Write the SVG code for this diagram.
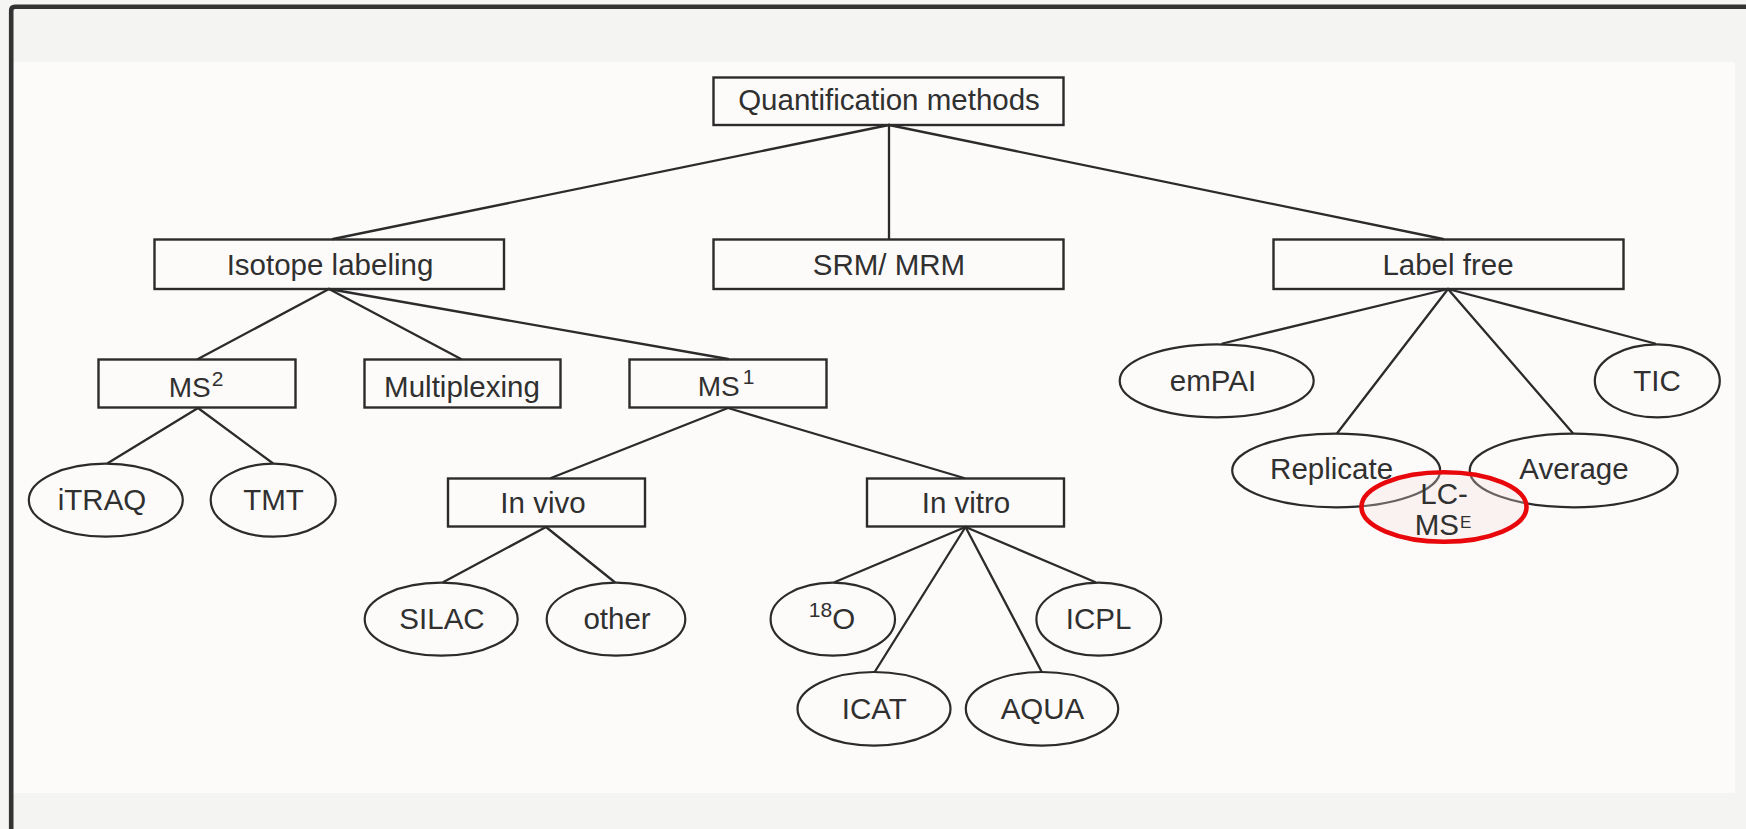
<svg xmlns="http://www.w3.org/2000/svg" width="1746" height="829" viewBox="0 0 1746 829">
  <style>
    .box { fill: none; stroke: #2b2b2b; stroke-width: 2.4; }
    .oval { fill: none; stroke: #2b2b2b; stroke-width: 2.2; }
    .lbl { font-family: "Liberation Sans", Arial, Helvetica, sans-serif; font-size: 29.5px; fill: #303030; text-anchor: middle; }
    .sup { font-size: 21px; }
    .edges line { stroke: #2b2b2b; stroke-width: 2.3; stroke-linecap: round; }
  </style>

  <!-- page and frame -->
  <rect x="0" y="0" width="1746" height="829" fill="#f5f5f4"/>
  <rect x="13" y="9" width="1733" height="820" fill="#f4f4f2"/>
  <rect x="13" y="62" width="1722" height="731" fill="#fdfbfa"/>
  <path d="M11.2,829 V10.5 Q11.2,6.7 15,6.7 H1746" fill="none" stroke="#333333" stroke-width="4.6"/>

  <!-- connectors -->
  <g id="connectors" class="edges">
    <line x1="889" y1="125" x2="333" y2="239"/>
    <line x1="889" y1="125" x2="889" y2="239"/>
    <line x1="889" y1="125" x2="1443" y2="239"/>

    <line x1="329" y1="289" x2="198" y2="359"/>
    <line x1="329" y1="289" x2="461" y2="359"/>
    <line x1="329" y1="289" x2="728" y2="359"/>

    <line x1="198" y1="408" x2="108" y2="463"/>
    <line x1="198" y1="408" x2="272.5" y2="463"/>

    <line x1="728" y1="408" x2="551" y2="478"/>
    <line x1="728" y1="408" x2="964" y2="478"/>

    <line x1="546" y1="527" x2="443.5" y2="582"/>
    <line x1="546" y1="527" x2="614.5" y2="582"/>

    <line x1="965.5" y1="527" x2="835" y2="582"/>
    <line x1="965.5" y1="527" x2="875" y2="671.5"/>
    <line x1="965.5" y1="527" x2="1041.5" y2="671.5"/>
    <line x1="965.5" y1="527" x2="1095" y2="582"/>

    <line x1="1448" y1="289" x2="1222.5" y2="343.5"/>
    <line x1="1448" y1="289" x2="1337.3" y2="433"/>
    <line x1="1448" y1="289" x2="1572.7" y2="433"/>
    <line x1="1448" y1="289" x2="1655" y2="343.5"/>
  </g>

  <!-- level 0 -->
  <g id="quantification-methods">
    <rect class="box" x="713.5" y="77.5" width="350" height="47.5"/>
    <text class="lbl" x="889" y="110">Quantification methods</text>
  </g>

  <!-- level 1 -->
  <g id="isotope-labeling">
    <rect class="box" x="154.5" y="239.5" width="349.5" height="49.5"/>
    <text class="lbl" x="330" y="275">Isotope labeling</text>
  </g>
  <g id="srm-mrm">
    <rect class="box" x="713.5" y="239.5" width="350" height="49.5"/>
    <text class="lbl" x="889" y="275">SRM/ MRM</text>
  </g>
  <g id="label-free">
    <rect class="box" x="1273.5" y="239.5" width="350" height="49.5"/>
    <text class="lbl" x="1448" y="275">Label free</text>
  </g>

  <!-- isotope labeling branch -->
  <g id="ms2">
    <rect class="box" x="98.5" y="359.5" width="197" height="48"/>
    <text class="lbl" x="196" y="396.5"><tspan font-size="28">MS</tspan><tspan class="sup" dx="1" dy="-11">2</tspan></text>
  </g>
  <g id="multiplexing">
    <rect class="box" x="364.5" y="359.5" width="196" height="48"/>
    <text class="lbl" x="462" y="396.5">Multiplexing</text>
  </g>
  <g id="ms1">
    <rect class="box" x="629.5" y="359.5" width="197" height="48"/>
    <text class="lbl" x="726" y="396"><tspan font-size="28">MS</tspan><tspan class="sup" dx="3" dy="-12">1</tspan></text>
  </g>

  <g id="itraq">
    <ellipse class="oval" cx="105.8" cy="500.2" rx="77" ry="36.5"/>
    <text class="lbl" x="102" y="509.5">iTRAQ</text>
  </g>
  <g id="tmt">
    <ellipse class="oval" cx="273.2" cy="500.2" rx="62.5" ry="36.5"/>
    <text class="lbl" x="273.6" y="509.5">TMT</text>
  </g>

  <g id="in-vivo">
    <rect class="box" x="448" y="478.5" width="197" height="48"/>
    <text class="lbl" x="543" y="512.5">In vivo</text>
  </g>
  <g id="in-vitro">
    <rect class="box" x="867" y="478.5" width="197" height="48"/>
    <text class="lbl" x="966" y="512.5">In vitro</text>
  </g>

  <g id="silac">
    <ellipse class="oval" cx="441.2" cy="619.2" rx="76.5" ry="36.5"/>
    <text class="lbl" x="442" y="628.5">SILAC</text>
  </g>
  <g id="other">
    <ellipse class="oval" cx="616" cy="619.2" rx="69.3" ry="36.5"/>
    <text class="lbl" x="617" y="628.5">other</text>
  </g>

  <g id="o18">
    <ellipse class="oval" cx="832.8" cy="619.2" rx="62.2" ry="36.5"/>
    <text class="lbl" x="832" y="628.5"><tspan class="sup" dy="-11.5">18</tspan><tspan dy="11.5">O</tspan></text>
  </g>
  <g id="icpl">
    <ellipse class="oval" cx="1098.8" cy="619.2" rx="62.4" ry="36.5"/>
    <text class="lbl" x="1098.5" y="628.5">ICPL</text>
  </g>
  <g id="icat">
    <ellipse class="oval" cx="874" cy="708.8" rx="76.5" ry="36.8"/>
    <text class="lbl" x="874.3" y="718.5">ICAT</text>
  </g>
  <g id="aqua">
    <ellipse class="oval" cx="1042" cy="708.8" rx="76.2" ry="36.8"/>
    <text class="lbl" x="1042.5" y="718.5">AQUA</text>
  </g>

  <!-- label free branch -->
  <g id="empai">
    <ellipse class="oval" cx="1216.7" cy="380.8" rx="97" ry="36.5"/>
    <text class="lbl" x="1213" y="390.5">emPAI</text>
  </g>
  <g id="tic">
    <ellipse class="oval" cx="1657.3" cy="380.8" rx="62.5" ry="36.5"/>
    <text class="lbl" x="1657" y="390.5">TIC</text>
  </g>
  <g id="replicate">
    <ellipse class="oval" cx="1336.2" cy="470.5" rx="104" ry="36.8"/>
    <text class="lbl" x="1331.6" y="479">Replicate</text>
  </g>
  <g id="average">
    <ellipse class="oval" cx="1573.7" cy="470.5" rx="104" ry="36.8"/>
    <text class="lbl" x="1574" y="479">Average</text>
  </g>

  <!-- highlighted LC-MS^E -->
  <g id="lc-mse">
    <ellipse cx="1444" cy="507" rx="82.5" ry="34.7" fill="#f6dede" fill-opacity="0.3" stroke="#e8070b" stroke-width="4.6"/>
    <text class="lbl" x="1444" y="504.3" font-size="25">LC-</text>
    <text class="lbl" x="1443" y="535" font-size="24">MS<tspan font-size="17" dx="1" dy="-7">E</tspan></text>
  </g>
</svg>
